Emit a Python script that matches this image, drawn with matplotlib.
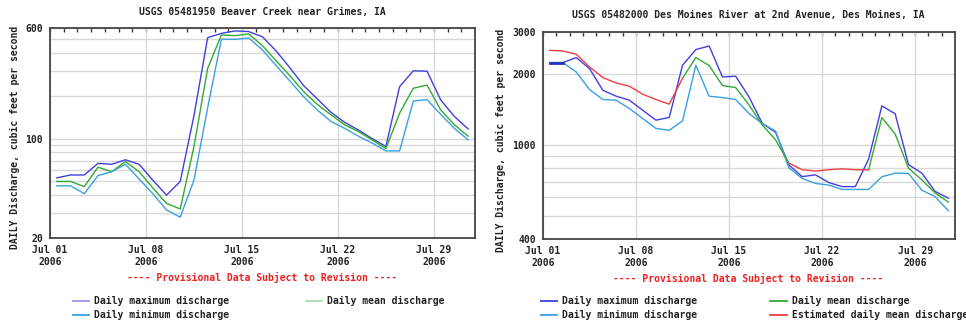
import datetime as dt
import matplotlib
matplotlib.use("Agg")
import matplotlib.pyplot as plt
import matplotlib.dates as mdates
from matplotlib.lines import Line2D
from matplotlib.ticker import FixedLocator, NullFormatter

# daily values, July 2006 (31 days)
days = [dt.datetime(2006, 7, 1, 12) + dt.timedelta(days=i) for i in range(31)]

# USGS 05481950 Beaver Creek near Grimes, IA
beaver_max = [53, 55.5, 55.5, 67, 66, 71, 66, 51, 40, 50, 145, 513, 550, 572, 566,
              520, 413, 315, 236, 190, 153, 130, 115, 100, 88, 232, 300, 298, 187, 143, 117]
beaver_mean = [50, 50, 46, 63, 58.5, 69, 58.5, 45, 35, 32, 88, 312, 536, 530, 545,
               450, 352, 277, 214, 174, 147, 125, 112, 98, 85, 151, 226, 238, 159, 125, 104]
beaver_min = [46.6, 46.6, 41, 55, 58.5, 66, 52, 41, 31.5, 28, 51, 165, 500, 500, 510,
              420, 326, 254, 197, 159, 132, 118, 104, 93, 82, 82, 184, 188, 148, 118, 98]

# USGS 05482000 Des Moines River at 2nd Avenue, Des Moines, IA
dm_max = [2227, 2227, 2339, 2101, 1702, 1606, 1545, 1401, 1272, 1306, 2171, 2528, 2618, 1938, 1950,
          1595, 1233, 1130, 822, 734, 747, 693, 666, 666, 870, 1462, 1352, 825, 760, 636, 595]
dm_mean = [2511, 2494, 2415, 2135, 1926, 1827, 1770, 1637, 1555, 1486, 1913, 2339, 2164, 1782, 1747,
           1475, 1214, 1050, 837, 785, 775, 785, 792, 785, 785, 1305, 1110, 797, 712, 626, 573]
dm_min = [2227, 2227, 2034, 1714, 1555, 1545, 1425, 1293, 1173, 1153, 1263, 2171, 1606, 1585, 1555,
          1357, 1231, 1143, 800, 721, 687, 676, 648, 648, 648, 733, 760, 757, 644, 604, 527]
# days where the mean is estimated (red)
dm_est = [True] * 10 + [False] * 8 + [True] * 7 + [False] * 6

C_MAX = "#4040dd"
C_MEAN = "#33aa33"
C_MIN = "#3aa0e0"
C_EST = "#ee4040"
FONT = dict(family="DejaVu Sans Mono", weight="bold", size=7, color="#222222")

fig = plt.figure(figsize=(9.66, 3.24), dpi=100)
W, H = 966.0, 324.0


def setup_axes(ax, ymin, ymax, ylabels, minor_grid):
    ax.set_yscale("log")
    ax.set_ylim(ymin, ymax)
    ax.set_xlim(dt.datetime(2006, 7, 1), dt.datetime(2006, 8, 1))
    ax.yaxis.set_major_locator(FixedLocator(ylabels))
    ax.yaxis.set_major_formatter(matplotlib.ticker.FixedFormatter([str(v) for v in ylabels]))
    ax.yaxis.set_minor_locator(FixedLocator(minor_grid))
    ax.yaxis.set_minor_formatter(NullFormatter())
    majors = [dt.datetime(2006, 7, d) for d in (1, 8, 15, 22, 29)]
    ax.xaxis.set_major_locator(FixedLocator(mdates.date2num(majors)))
    ax.set_xticklabels([d.strftime("Jul %d\n%Y") for d in majors])
    ax.tick_params(axis="x", which="both", length=0, pad=5)
    ax.tick_params(axis="y", which="both", length=0, pad=5)
    for lab in ax.get_xticklabels() + ax.get_yticklabels():
        lab.set_fontfamily(FONT["family"])
        lab.set_fontweight("bold")
        lab.set_fontsize(7)
        lab.set_color("#222222")
    ax.grid(True, which="both", axis="y", color="#d8d8d8", lw=1)
    ax.grid(True, which="major", axis="x", color="#d8d8d8", lw=1)
    # daily tick marks along the top edge
    top = ax.secondary_xaxis("top")
    top.set_xticks(mdates.date2num([dt.datetime(2006, 7, d) for d in range(1, 32)]))
    top.tick_params(direction="in", length=3, width=1, color="#333333", labeltop=False)
    top.spines["top"].set_visible(False)
    for s in ax.spines.values():
        s.set_color("#444444")
        s.set_linewidth(1.3)


# ---- left panel
ax1 = fig.add_axes([50 / W, 1 - 238 / H, 425 / W, 210 / H])
ax1.plot(days, beaver_max, color=C_MAX, lw=1)
ax1.plot(days, beaver_mean, color=C_MEAN, lw=1)
ax1.plot(days, beaver_min, color=C_MIN, lw=1)
setup_axes(ax1, 20, 600, [20, 100, 600],
           [30, 40, 50, 60, 70, 80, 90, 200, 300, 400, 500])
fig.text(262 / W, 1 - 12 / H, "USGS 05481950 Beaver Creek near Grimes, IA",
         ha="center", va="center", **FONT)
fig.text(15 / W, 1 - 137 / H, "DAILY Discharge, cubic feet per second",
         rotation=90, ha="center", va="center", **FONT)

# ---- right panel
ax2 = fig.add_axes([543 / W, 1 - 239 / H, 412 / W, 207 / H])
ax2.plot(days, dm_max, color=C_MAX, lw=1)
ax2.plot(days, dm_min, color=C_MIN, lw=1)
# mean: green where measured, red where estimated
seg_red = [list(range(0, 11)), list(range(18, 25))]
seg_green = [list(range(10, 19)), list(range(24, 31))]
for seg in seg_green:
    ax2.plot([days[i] for i in seg], [dm_mean[i] for i in seg], color=C_MEAN, lw=1)
for seg in seg_red:
    ax2.plot([days[i] for i in seg], [dm_mean[i] for i in seg], color=C_EST, lw=1)
ax2.plot(days[:2], dm_min[:2], color="#2233bb", lw=2)
setup_axes(ax2, 400, 3000, [400, 1000, 2000, 3000],
           [500, 600, 700, 800, 900, 2000])
fig.text(748 / W, 1 - 15 / H, "USGS 05482000 Des Moines River at 2nd Avenue, Des Moines, IA",
         ha="center", va="center", **FONT)
fig.text(501 / W, 1 - 140 / H, "DAILY Discharge, cubic feet per second",
         rotation=90, ha="center", va="center", **FONT)

# provisional notes
red_font = dict(FONT, color="#ee2020")
fig.text(262 / W, 1 - 277 / H, "---- Provisional Data Subject to Revision ----",
         ha="center", va="center", **red_font)
fig.text(748 / W, 1 - 278 / H, "---- Provisional Data Subject to Revision ----",
         ha="center", va="center", **red_font)


# legends
def legend_item(x0, x1, y, color, label, alpha=1.0):
    fig.add_artist(Line2D([x0 / W, x1 / W], [1 - y / H, 1 - y / H], color=color,
                          lw=1.3, alpha=alpha, transform=fig.transFigure))
    fig.text((x1 + 5) / W, 1 - y / H, label, ha="left", va="center", **FONT)


legend_item(73, 89, 301, C_MAX, "Daily maximum discharge", alpha=0.55)
legend_item(306, 322, 301, C_MEAN, "Daily mean discharge", alpha=0.4)
legend_item(73, 89, 315, C_MIN, "Daily minimum discharge")

legend_item(541, 557, 301, C_MAX, "Daily maximum discharge")
legend_item(770, 787, 301, C_MEAN, "Daily mean discharge")
legend_item(541, 557, 315, C_MIN, "Daily minimum discharge")
legend_item(770, 787, 315, C_EST, "Estimated daily mean discharge")

fig.savefig("out.png", dpi=100)
